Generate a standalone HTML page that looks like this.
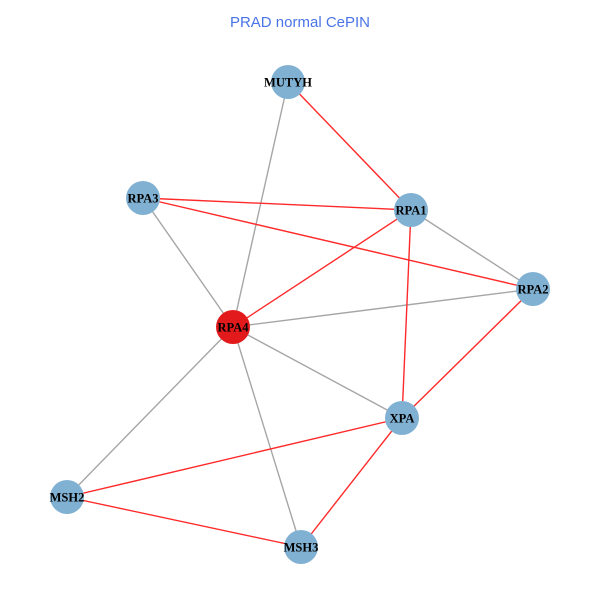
<!DOCTYPE html>
<html><head><style>body{margin:0;background:#fff}svg{display:block}</style></head>
<body>
<svg width="600" height="600" xmlns="http://www.w3.org/2000/svg">
<rect width="600" height="600" fill="#fff"/>
<text x="300" y="27" text-anchor="middle" font-family="Liberation Sans, sans-serif" font-size="15" fill="#4a74e8">PRAD normal CePIN</text>
<g stroke="#a6a6a6" stroke-width="1.4">
<line x1="288" y1="82" x2="233" y2="327"/>
<line x1="143" y1="198" x2="233" y2="327"/>
<line x1="411" y1="210" x2="533" y2="289"/>
<line x1="233" y1="327" x2="533" y2="289"/>
<line x1="233" y1="327" x2="402" y2="418"/>
<line x1="233" y1="327" x2="67" y2="497"/>
<line x1="233" y1="327" x2="301" y2="547"/>
</g>
<g stroke="#ff2a2a" stroke-width="1.4">
<line x1="288" y1="82" x2="411" y2="210"/>
<line x1="143" y1="198" x2="411" y2="210"/>
<line x1="143" y1="198" x2="533" y2="289"/>
<line x1="411" y1="210" x2="233" y2="327"/>
<line x1="411" y1="210" x2="402" y2="418"/>
<line x1="533" y1="289" x2="402" y2="418"/>
<line x1="402" y1="418" x2="67" y2="497"/>
<line x1="402" y1="418" x2="301" y2="547"/>
<line x1="67" y1="497" x2="301" y2="547"/>
</g>
<g fill="#80b1d3">
<circle cx="288" cy="82" r="17"/>
<circle cx="143" cy="198" r="17"/>
<circle cx="411" cy="210" r="17"/>
<circle cx="533" cy="289" r="17"/>
<circle cx="402" cy="418" r="17"/>
<circle cx="67" cy="497" r="17"/>
<circle cx="301" cy="547" r="17"/>
</g>
<circle cx="233" cy="327" r="17" fill="#e31a1c"/>
<g font-family="Liberation Serif, serif" font-weight="bold" font-size="12.5" fill="#000" text-anchor="middle">
<text x="288" y="86.5">MUTYH</text>
<text x="143" y="202.5">RPA3</text>
<text x="411" y="214.5">RPA1</text>
<text x="533" y="293.5">RPA2</text>
<text x="233" y="331.5">RPA4</text>
<text x="402" y="422.5">XPA</text>
<text x="67" y="501.5">MSH2</text>
<text x="301" y="551.5">MSH3</text>
</g>
</svg>
</body></html>
